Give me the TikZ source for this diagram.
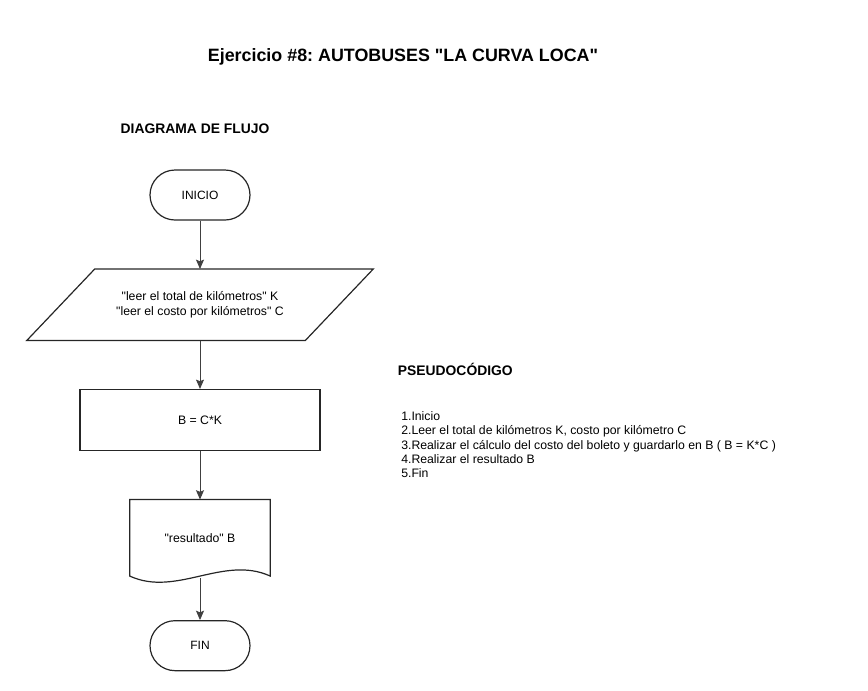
\documentclass[tikz,border=0pt]{standalone}
\usepackage{fontspec}
\setmainfont{Liberation Sans}[Ligatures=TeXOff]
\frenchspacing
\usetikzlibrary{arrows.meta,positioning,shapes}
\tikzstyle{terminal}=[rectangle,draw=black!85,line width=0.9pt,rounded corners=18.75pt,
minimum width=75pt,minimum height=37.5pt,font=\fontsize{9pt}{10.5pt}\selectfont]
\tikzstyle{io}=[rectangle,minimum width=259.5pt,minimum height=53.25pt,align=center,
font=\fontsize{9.2pt}{10.7pt}\selectfont]
\tikzstyle{process}=[rectangle,draw=black!85,line width=0.9pt,minimum width=180pt,
minimum height=45.75pt,font=\fontsize{9.2pt}{10.7pt}\selectfont]
\tikzstyle{document}=[rectangle,minimum width=105pt,minimum height=57pt,
font=\fontsize{9.2pt}{10.7pt}\selectfont]
\tikzstyle{heading}=[font=\bfseries\fontsize{10.4pt}{12pt}\selectfont]
\tikzstyle{flow}=[-{Stealth[length=7pt,width=6pt,inset=1.2pt]},draw=black!75,line width=0.75pt]

\begin{document}
\begin{tikzpicture}[node distance=36.3pt, auto]
            \useasboundingbox (0,0) rectangle (651pt,-517.5pt);

            % TITLES

            \node[font=\bfseries\fontsize{13.4pt}{15pt}\selectfont] (title) at (302.25pt,-42.5pt) {Ejercicio \#8: AUTOBUSES "LA CURVA LOCA"};
            \node[heading] (hflow) at (146.25pt,-96.75pt) {DIAGRAMA DE FLUJO};
            \node[heading] (hpseudo) at (341.5pt,-276.75pt) {PSEUDOCÓDIGO};

            % FLOWCHART

            \node[terminal] (start) at (150pt,-146.25pt) {INICIO};
            \node[io, below=of start] (read) {"leer el total de kilómetros" K\\ "leer el costo por kilómetros" C};
            \node[process, below=of read] (calc) {B = C*K};
            \node[document, below=of calc] (res) {"resultado" B};
            \node[terminal, below=33pt of res] (end) {FIN};

            \draw[draw=black!85,line width=0.9pt] ([xshift=51pt]read.north west) -- (read.north east)
                -- ([xshift=-51pt]read.south east) -- (read.south west) -- cycle;
            \draw[draw=black!85,line width=0.9pt] (res.south west) -- (res.north west) -- (res.north east)
                -- (res.south east) .. controls +(-35pt,16pt) and +(35pt,-16pt) .. (res.south west) -- cycle;
            \coordinate (wave) at ([yshift=-1.5pt]res.south);

            \draw[flow] (start) -- (read);
            \draw[flow] (read) -- (calc);
            \draw[flow] (calc) -- (res);
            \draw[flow] (wave) -- (end);

            % PSEUDOCODE

            \node[anchor=north west,inner sep=0pt,align=left,font=\fontsize{9.2pt}{10.7pt}\selectfont] (steps) at (300.75pt,-308.5pt)
            {1.Inicio\\
             2.Leer el total de kilómetros K, costo por kilómetro C\\
             3.Realizar el cálculo del costo del boleto y guardarlo en B ( B = K*C )\\
             4.Realizar el resultado B\\
             5.Fin};

\end{tikzpicture}
\end{document}
